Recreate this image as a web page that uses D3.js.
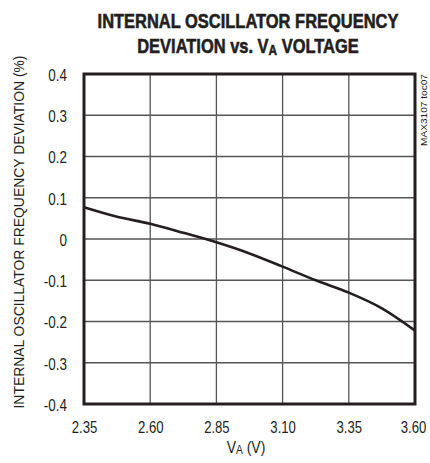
<!DOCTYPE html>
<html>
<head>
<meta charset="utf-8">
<script src="https://cdn.jsdelivr.net/npm/d3@7/dist/d3.min.js"></script>
<style>
  body { margin: 0; background: #fff; }
  svg text { font-family: "Liberation Sans", Arial, sans-serif; fill: #231f20; }
</style>
</head>
<body>
<div id="chart"></div>
<script>
// Data
const voltage = [2.35, 2.475, 2.60, 2.725, 2.85, 2.975, 3.10, 3.225, 3.35, 3.475, 3.60];
const deviation = [0.077, 0.054, 0.037, 0.015, -0.008, -0.035, -0.067, -0.100, -0.130, -0.168, -0.222];
const xTicks = [2.35, 2.60, 2.85, 3.10, 3.35, 3.60];
const yTicks = [-0.4, -0.3, -0.2, -0.1, 0, 0.1, 0.2, 0.3, 0.4];

const width = 430, height = 463;
const margin = { top: 74, right: 15, bottom: 59, left: 84 };
const w = width - margin.left - margin.right;
const h = height - margin.top - margin.bottom;

// squeeze regular Liberation Sans to look like a condensed face
function narrow(sel, k) {
  sel.each(function() {
    const len = this.getComputedTextLength();
    d3.select(this).attr('textLength', len * k).attr('lengthAdjust', 'spacingAndGlyphs');
  });
}

const svg = d3.select('#chart')
  .append('svg')
  .attr('width', width)
  .attr('height', height);

const g = svg.append('g')
  .attr('transform', `translate(${margin.left}, ${margin.top})`);

const xScale = d3.scaleLinear().domain([2.35, 3.60]).range([0, w]);
const yScale = d3.scaleLinear().domain([-0.4, 0.4]).range([h, 0]);

// grid
g.selectAll('.vgrid')
  .data(xTicks.slice(1, -1))
  .enter().append('line')
  .attr('x1', d => xScale(d)).attr('x2', d => xScale(d))
  .attr('y1', 0).attr('y2', h)
  .attr('stroke', '#555').attr('stroke-width', 1.3);

g.selectAll('.hgrid')
  .data(yTicks.slice(1, -1))
  .enter().append('line')
  .attr('x1', 0).attr('x2', w)
  .attr('y1', d => yScale(d)).attr('y2', d => yScale(d))
  .attr('stroke', '#555').attr('stroke-width', 1.3);

// axes (labels only, frame drawn separately)
const xAxis = d3.axisBottom(xScale).tickValues(xTicks).tickFormat(d3.format('.2f')).tickSize(0).tickPadding(18);
const yAxis = d3.axisLeft(yScale).tickValues(yTicks)
  .tickFormat(d => d === 0 ? '0' : d3.format('.1f')(d).replace('\u2212', '-'))
  .tickSize(0).tickPadding(17);

g.append('g')
  .attr('transform', `translate(0, ${h})`)
  .call(xAxis)
  .call(a => a.select('.domain').remove())
  .selectAll('text')
  .attr('font-size', 16)
  .attr('fill', '#231f20')
  .attr('dx', (d, i) => i === xTicks.length - 1 ? -2 : 0)
  .call(narrow, 0.82);

g.append('g')
  .call(yAxis)
  .call(a => a.select('.domain').remove())
  .selectAll('text')
  .attr('font-size', 16)
  .attr('dy', '0.4em')
  .attr('fill', '#231f20')
  .call(narrow, 0.84);

// curve
const line = d3.line()
  .x((d, i) => xScale(voltage[i]))
  .y(d => yScale(d))
  .curve(d3.curveMonotoneX);

g.append('path')
  .datum(deviation)
  .attr('d', line)
  .attr('fill', 'none')
  .attr('stroke', '#231f20')
  .attr('stroke-width', 2.6);

// frame
g.append('rect')
  .attr('x', 0).attr('y', 0)
  .attr('width', w).attr('height', h)
  .attr('fill', 'none')
  .attr('stroke', '#231f20')
  .attr('stroke-width', 3);

// title
const titleG = svg.append('g');
const title = titleG.append('text')
  .attr('text-anchor', 'middle')
  .attr('font-size', 21)
  .attr('font-weight', 'bold')
  .attr('stroke', '#231f20')
  .attr('stroke-width', 0.6);
const t1 = title.append('tspan').attr('x', 0).attr('y', 28).text('INTERNAL OSCILLATOR FREQUENCY');
const t2 = title.append('tspan').attr('x', 0).attr('y', 53);
t2.append('tspan').text('DEVIATION vs. V');
t2.append('tspan').attr('font-size', 15).attr('dy', 2).text('A');
t2.append('tspan').attr('dy', -2).text(' VOLTAGE');
const sTitle = 301 / t1.node().getComputedTextLength();
titleG.attr('transform', `translate(248, 0) scale(${sTitle}, 1)`);

// x label
const xl = svg.append('g')
  .attr('transform', 'translate(246, 453) scale(0.85, 1)')
  .append('text')
  .attr('text-anchor', 'middle')
  .attr('font-size', 16.5);
xl.append('tspan').text('V');
xl.append('tspan').attr('font-size', 12).attr('dy', 1).text('A');
xl.append('tspan').attr('dy', -1).text(' (V)');

// y label
svg.append('text')
  .attr('transform', 'translate(24, 232) rotate(-90)')
  .attr('text-anchor', 'middle')
  .attr('font-size', 15.5)
  .attr('textLength', 353)
  .attr('lengthAdjust', 'spacingAndGlyphs')
  .text('INTERNAL OSCILLATOR FREQUENCY DEVIATION (%)');

// figure id
svg.append('text')
  .attr('transform', 'translate(427, 74) rotate(-90)')
  .attr('text-anchor', 'end')
  .attr('font-size', 9)
  .attr('textLength', 72)
  .attr('lengthAdjust', 'spacingAndGlyphs')
  .text('MAX3107 toc07');
</script>
</body>
</html>
